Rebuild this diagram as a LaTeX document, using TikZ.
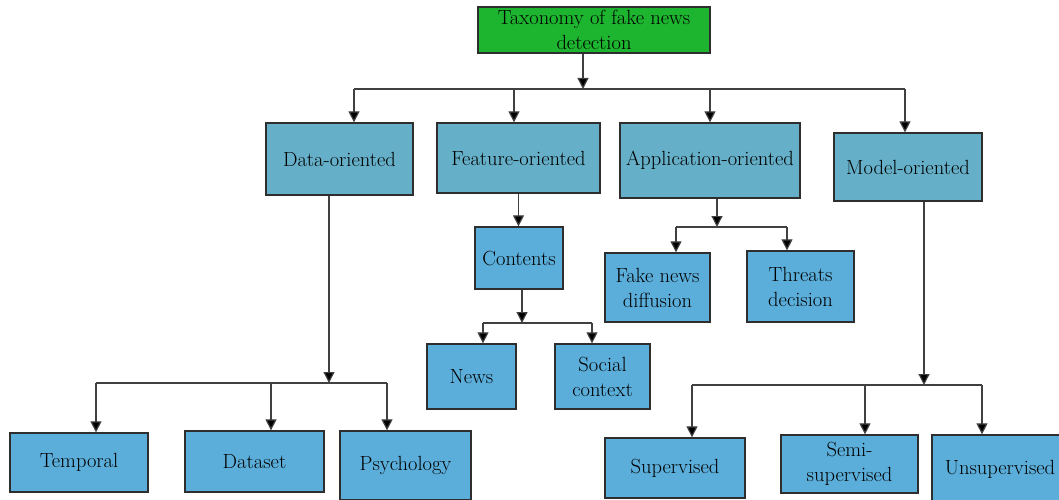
\documentclass[tikz,border=0pt]{standalone}
\usepackage{xcolor}
\usetikzlibrary{arrows.meta}
\definecolor{rootgreen}{HTML}{1DB52F}
\definecolor{topblue}{HTML}{65B0C8}
\definecolor{subblue}{HTML}{5BAEDA}
\definecolor{edgegray}{HTML}{2E2E2E}
\definecolor{linegray}{HTML}{404040}

\begin{document}
\begin{tikzpicture}[
  x=1pt, y=-1pt,
  box/.style={
    rectangle,
    draw=edgegray,
    line width=1.3pt,
    fill=subblue,
    align=center,
    inner sep=0pt,
    text=black,
    font=\fontsize{20.5}{25}\selectfont
  },
  topbox/.style={box, fill=topblue},
  rootbox/.style={box, fill=rootgreen},
  bus/.style={line width=1.2pt, draw=linegray},
  rel/.style={-{Triangle[length=11pt,width=11pt,fill=black]}, line width=1.2pt, draw=linegray}
]

\clip (0,0) rectangle (1059,500);
\fill[white] (0,0) rectangle (1059,500);

\node[rootbox, minimum width=232, minimum height=46] (root) at (594,30) {Taxonomy of fake news\\detection};

\node[topbox, minimum width=147, minimum height=72] (data) at (339.5,159) {Data-oriented};
\node[topbox, minimum width=163, minimum height=70] (feature) at (518.5,158) {Feature-oriented};
\node[topbox, minimum width=180, minimum height=75] (application) at (710,160.5) {Application-oriented};
\node[topbox, minimum width=148, minimum height=68] (model) at (908,167) {Model-oriented};

\node[box, minimum width=88, minimum height=62] (contents) at (519,258) {Contents};
\node[box, minimum width=89, minimum height=65] (news) at (471.5,376.5) {News};
\node[box, minimum width=95, minimum height=65] (social) at (602.5,376.5) {Social\\context};

\node[box, minimum width=105, minimum height=69] (diffusion) at (657.5,287.5) {Fake news\\diffusion};
\node[box, minimum width=107, minimum height=71] (threats) at (800.5,286.5) {Threats\\decision};

\node[box, minimum width=138, minimum height=59] (temporal) at (79,462.5) {Temporal};
\node[box, minimum width=139, minimum height=61] (dataset) at (254.5,461.5) {Dataset};
\node[box, minimum width=131, minimum height=69] (psychology) at (405.5,465.5) {Psychology};

\node[box, minimum width=140, minimum height=60] (supervised) at (675,468) {Supervised};
\node[box, minimum width=137, minimum height=58] (semi) at (849.5,464) {Semi-\\supervised};
\node[box, minimum width=136, minimum height=68] (unsupervised) at (1000,469) {Unsupervised};

\coordinate (rootjoin) at (583,89);
\coordinate (datatap) at (354,89);
\coordinate (featuretap) at (514,89);
\coordinate (applicationtap) at (710,89);
\coordinate (modeltap) at (905,89);

\draw[rel] (root.south -| rootjoin) -- (rootjoin);
\draw[bus] (datatap) -- (modeltap);
\draw[rel] (datatap) -- (datatap |- data.north);
\draw[rel] (featuretap) -- (featuretap |- feature.north);
\draw[rel] (applicationtap) -- (applicationtap |- application.north);
\draw[rel] (modeltap) -- (modeltap |- model.north);

\draw[rel] (feature.south) -- (feature.south |- contents.north);

\coordinate (contentsjoin) at (522,323);
\coordinate (newstap) at (483,323);
\coordinate (socialtap) at (592,323);
\draw[rel] (contents.south -| contentsjoin) -- (contentsjoin);
\draw[bus] (newstap) -- (socialtap);
\draw[rel] (newstap) -- (newstap |- news.north);
\draw[rel] (socialtap) -- (socialtap |- social.north);

\coordinate (applicationjoin) at (717,227);
\coordinate (diffusiontap) at (676,227);
\coordinate (threatstap) at (787,227);
\draw[rel] (application.south -| applicationjoin) -- (applicationjoin);
\draw[bus] (diffusiontap) -- (threatstap);
\draw[rel] (diffusiontap) -- (diffusiontap |- diffusion.north);
\draw[rel] (threatstap) -- (threatstap |- threats.north);

\coordinate (datajoin) at (329,383);
\coordinate (temporaltap) at (96,383);
\coordinate (datasettap) at (271,383);
\coordinate (psychologytap) at (387,383);
\draw[rel] (data.south -| datajoin) -- (datajoin);
\draw[bus] (temporaltap) -- (psychologytap);
\draw[rel] (temporaltap) -- (temporaltap |- temporal.north);
\draw[rel] (datasettap) -- (datasettap |- dataset.north);
\draw[rel] (psychologytap) -- (psychologytap |- psychology.north);

\coordinate (modeljoin) at (924,385);
\coordinate (supervisedtap) at (692,385);
\coordinate (semitap) at (865,385);
\coordinate (unsupervisedtap) at (982,385);
\draw[rel] (model.south -| modeljoin) -- (modeljoin);
\draw[bus] (supervisedtap) -- (unsupervisedtap);
\draw[rel] (supervisedtap) -- (supervisedtap |- supervised.north);
\draw[rel] (semitap) -- (semitap |- semi.north);
\draw[rel] (unsupervisedtap) -- (unsupervisedtap |- unsupervised.north);

\end{tikzpicture}
\end{document}
